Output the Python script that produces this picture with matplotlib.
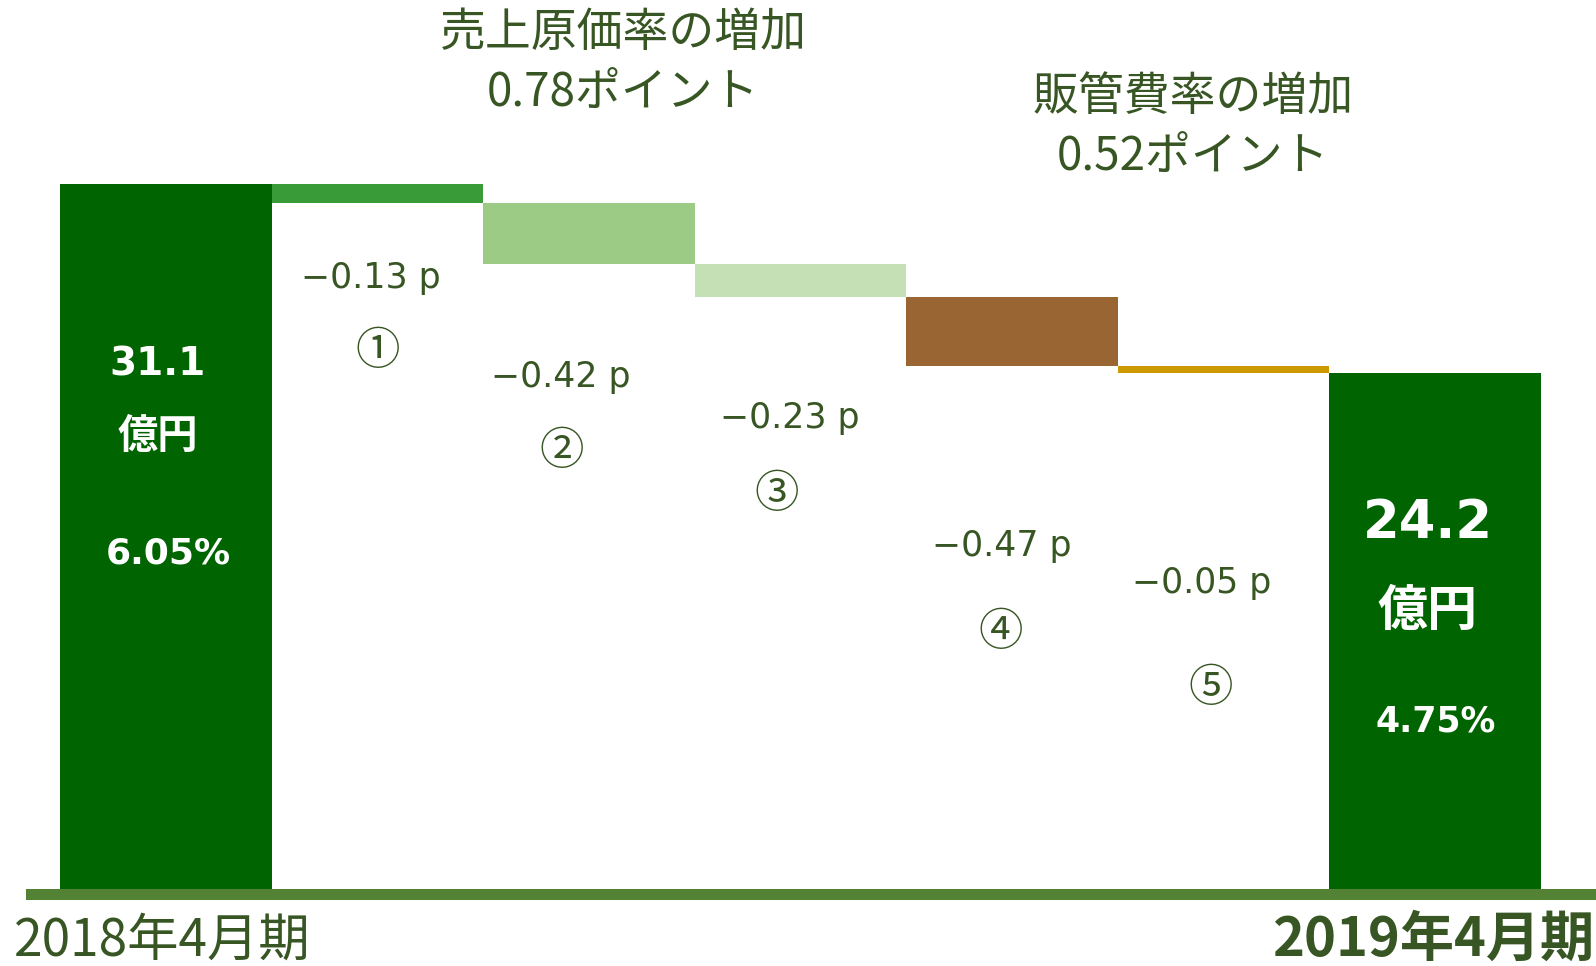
import numpy as np
import matplotlib.pyplot as plt

plt.rcParams['font.family'] = ['DejaVu Sans', 'Noto Sans CJK JP']

# data
start_rate = 6.05
end_rate = 4.75
changes = [-0.13, -0.42, -0.23, -0.47, -0.05]
change_labels = ['\u22120.13 p', '\u22120.42 p', '\u22120.23 p', '\u22120.47 p', '\u22120.05 p']
circled = ['①', '②', '③', '④', '⑤']
start_profit = '31.1'
end_profit = '24.2'
period_labels = ['2018年4月期', '2019年4月期']
group_titles = ['売上原価率の増加\n0.78ポイント', '販管費率の増加\n0.52ポイント']

bar_colors = ['#006400', '#389b38', '#9bcb84', '#c5e0b4', '#996633', '#cc9900', '#006400']
text_green = '#375623'
base_green = '#548235'

W, H = 1596, 966
axis_floor = 1.2          # value at the baseline of the original chart

fig = plt.figure(figsize=(W / 100, H / 100), dpi=100)
ax = fig.add_axes([0, 0, 1, 1])

# scale: ~211.6 px per bar, ~145.4 px per percentage point
ax.set_xlim(-0.5 - 60 / 211.6, 6.5 + 55 / 211.6)
ax.set_ylim(axis_floor - 77 / 145.4, axis_floor + 889 / 145.4)
ax.axis('off')

# waterfall bars
levels = start_rate + np.cumsum(changes)
step_top = np.concatenate([[start_rate], levels[:-1]])
x = np.arange(7)
ax.bar(x[0], start_rate - axis_floor, bottom=axis_floor, width=1.0,
       color=bar_colors[0], linewidth=0)
for i, c in enumerate(changes):
    ax.bar(x[i + 1], -c, bottom=step_top[i] + c, width=1.0,
           color=bar_colors[i + 1], linewidth=0)
ax.bar(x[6], end_rate - axis_floor, bottom=axis_floor, width=1.0,
       color=bar_colors[6], linewidth=0)

# baseline
ax.axhspan(axis_floor - 11 / 145.4, axis_floor, xmin=26 / W, xmax=1,
           color=base_green, linewidth=0)


def fxy(px, py):
    return px / W, 1 - py / H


# labels under the step bars
label_pos = [(371, 288), (561, 387), (790, 428), (1002, 556), (1202, 593)]
circle_pos = [(378, 351), (562, 451), (777, 494), (1001, 632), (1211, 688)]
for lab, (px, py) in zip(change_labels, label_pos):
    fig.text(*fxy(px, py), lab, ha='center', va='baseline', fontsize=25,
             color=text_green)
for lab, (px, py) in zip(circled, circle_pos):
    fig.text(*fxy(px, py), lab, ha='center', va='center', fontsize=32,
             color=text_green, family=['Noto Sans CJK JP'])

# texts inside the total bars
fig.text(*fxy(158, 375), start_profit, ha='center', va='baseline',
         fontsize=28, fontweight='bold', color='white')
fig.text(*fxy(158, 437), '億円', ha='center', va='center',
         fontsize=29, fontweight='bold', color='white')
fig.text(*fxy(168, 563), f'{start_rate:.2f}%', ha='center', va='baseline',
         fontsize=26, fontweight='bold', color='white')

fig.text(*fxy(1428, 538), end_profit, ha='center', va='baseline',
         fontsize=38, fontweight='bold', color='white')
fig.text(*fxy(1427, 612), '億円', ha='center', va='center',
         fontsize=36, fontweight='bold', color='white')
fig.text(*fxy(1436, 731), f'{end_rate:.2f}%', ha='center', va='baseline',
         fontsize=25, fontweight='bold', color='white')

# group titles
fig.text(*fxy(623, 63), group_titles[0], ha='center', va='center',
         fontsize=33, color=text_green, family=['Noto Sans CJK JP'],
         linespacing=1.3)
fig.text(*fxy(1193, 127), group_titles[1], ha='center', va='center',
         fontsize=33, color=text_green, family=['Noto Sans CJK JP'],
         linespacing=1.3)

# period labels
fig.text(*fxy(14, 956), period_labels[0], ha='left', va='baseline',
         fontsize=37, color=text_green, family=['Noto Sans CJK JP'])
fig.text(*fxy(1272, 956), period_labels[1], ha='left', va='baseline',
         fontsize=39, fontweight='bold', color=text_green,
         family=['Noto Sans CJK JP'])

fig.savefig('out.png', dpi=100, facecolor='white')
